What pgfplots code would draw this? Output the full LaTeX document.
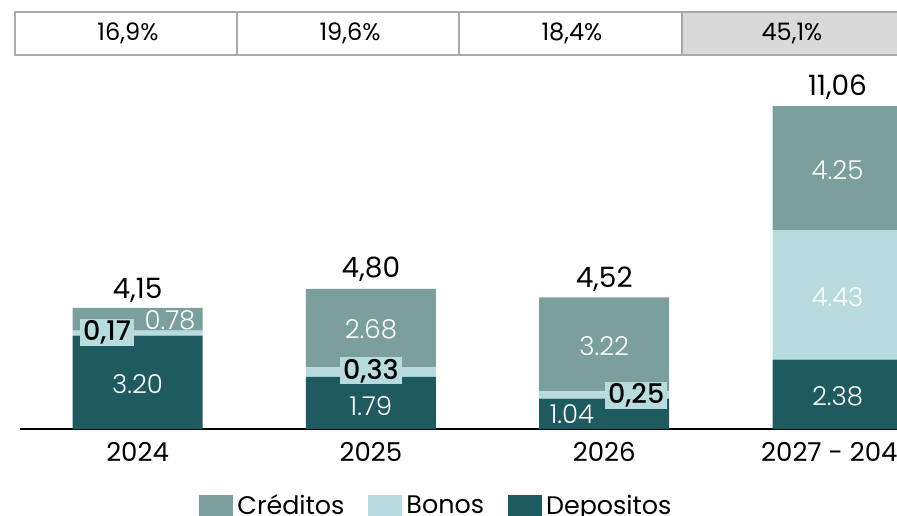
\documentclass[border=0pt]{standalone}
\usepackage{fontspec}
\setmainfont{Poppins}
\newfontfamily\lightfont{Poppins Light}
\newfontfamily\medfont{Poppins Medium}
\usepackage{pgfplots}
\pgfplotsset{compat=1.18}
\definecolor{cred}{RGB}{122,159,157}
\definecolor{bono}{RGB}{184,220,221}
\definecolor{depo}{RGB}{30,90,96}
\definecolor{boxgray}{RGB}{217,217,217}
\definecolor{boxline}{RGB}{170,170,170}
\pgfplotsset{common/.style={width=438.5pt,height=184.5pt,scale only axis,
  xmin=-0.504,xmax=3.255,ymin=0,ymax=12.64,at={(10pt,-214.5pt)},anchor=south west}}
\begin{document}
\begin{tikzpicture}
\useasboundingbox (0,0) rectangle (448.5pt,-257.5pt);
\clip (0,0) rectangle (448.5pt,-257.5pt);
% header boxes
\fill[boxgray] (341pt,-6pt) rectangle (452pt,-27.5pt);
\draw[boxline,line width=1pt] (7.5pt,-6pt) rectangle (118.5pt,-27.5pt);
\draw[boxline,line width=1pt] (118.5pt,-6pt) rectangle (229.5pt,-27.5pt);
\draw[boxline,line width=1pt] (229.5pt,-6pt) rectangle (341pt,-27.5pt);
\draw[boxline,line width=1pt] (341pt,-6pt) rectangle (452pt,-27.5pt);
\node[font=\fontsize{12}{14}\selectfont] at (64pt,-16.75pt) {16,9\%};
\node[font=\fontsize{12}{14}\selectfont] at (175pt,-16.75pt) {19,6\%};
\node[font=\fontsize{12}{14}\selectfont] at (286pt,-16.75pt) {18,4\%};
\node[font=\fontsize{12}{14}\selectfont] at (396pt,-16.75pt) {45,1\%};
\begin{axis}[common, ybar stacked, bar width=65pt,
  axis x line=bottom, axis y line=none,
  x axis line style={-,black,line width=1pt},
  xtick={0,1,2,3}, xticklabels={2024,2025,2026,2027 - 2045},
  xtick style={draw=none}, ytick=\empty,
  x tick label style={font=\fontsize{13}{15}\selectfont, yshift=-1pt},
  reverse legend, legend columns=3,
  legend style={at={(0.476,-0.21)},anchor=center,draw=none,fill=none,
    font=\fontsize{12.7}{14}\selectfont,
    /tikz/every even column/.append style={column sep=10pt}},
  legend image code/.code={\fill[#1] (-3pt,-6pt) rectangle (14pt,6pt);},
  ]
\addplot[fill=depo,draw=none] coordinates {(0,3.20) (1,1.79) (2,1.04) (3,2.38)};
\addlegendentry{Depositos}
\addplot[fill=bono,draw=none] coordinates {(0,0.17) (1,0.33) (2,0.25) (3,4.43)};
\addlegendentry{Bonos}
\addplot[fill=cred,draw=none] coordinates {(0,0.78) (1,2.68) (2,3.22) (3,4.25)};
\addlegendentry{Créditos}
\end{axis}
\begin{axis}[common, hide axis, clip=false]
\addplot[draw=none,mark=none,nodes near coords,nodes near coords align={center},
  point meta=explicit symbolic,
  every node near coord/.append style={text=white,font=\lightfont\fontsize{13}{15}\selectfont}]
  table[meta=label] {
x y label
0 1.54 3.20
0.139 3.73 0.78
1 0.80 1.79
1 3.40 2.68
1.862 0.51 1.04
2 2.84 3.22
3 1.13 2.38
3 4.52 4.43
3 8.87 4.25
};
\addplot[draw=none,mark=none,nodes near coords,nodes near coords align={center},
  point meta=explicit symbolic,
  every node near coord/.append style={text=black,fill=bono,inner xsep=1.5pt,
    inner ysep=0pt,minimum height=13.5pt,font=\medfont\fontsize{13.5}{15}\selectfont}]
  table[meta=label] {
x y label
-0.131 3.32 0,17
1 1.99 0,33
2.137 1.16 0,25
};
\addplot[draw=none,mark=none,nodes near coords,nodes near coords align={center},
  point meta=explicit symbolic,
  every node near coord/.append style={text=black,font=\fontsize{14}{16}\selectfont}]
  table[meta=label] {
x y label
0 4.76 4,15
1 5.48 4,80
2 5.14 4,52
3 11.71 11,06
};
\end{axis}
\end{tikzpicture}
\end{document}
